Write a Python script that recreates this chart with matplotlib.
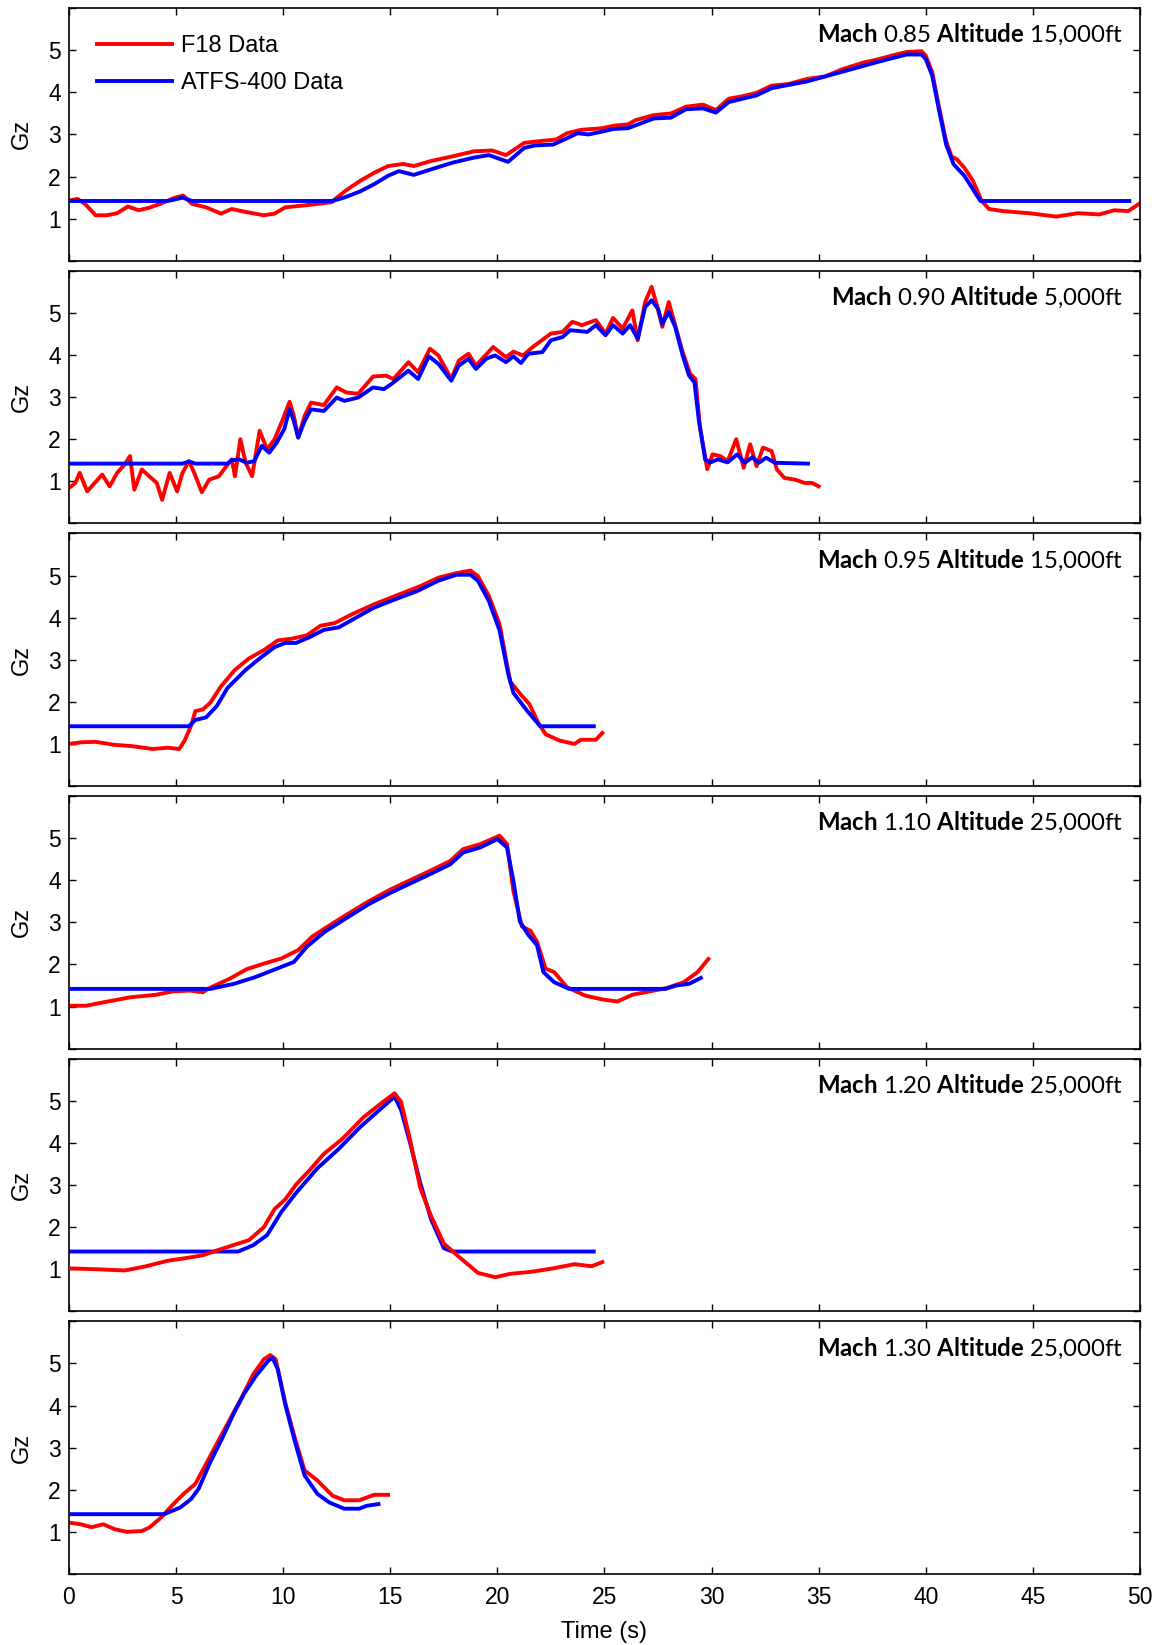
import matplotlib
matplotlib.use("Agg")
import matplotlib.pyplot as plt

# ---------------- data ----------------
mach = ["0.85", "0.90", "0.95", "1.10", "1.20", "1.30"]
altitude = ["15,000ft", "5,000ft", "15,000ft", "25,000ft", "25,000ft", "25,000ft"]
x_ticks = [0, 5, 10, 15, 20, 25, 30, 35, 40, 45, 50]
y_ticks = [0, 1, 2, 3, 4, 5, 6]
y_ticklabels = ["", "1", "2", "3", "4", "5", ""]

# Panel 1: Mach 0.85
t_f18_1 = [0, 0.4, 0.75, 1.25, 1.75, 2.25, 2.75, 3.25, 3.75, 4.25, 4.9, 5.33, 5.75, 6.4, 7.1, 7.6,
           8.25, 9.1, 9.6, 10.1, 10.9, 11.6, 12.25, 12.9, 13.6, 14.25, 14.9, 15.6, 16.1, 16.9, 17.9,
           18.9, 19.75, 20.4, 21.25, 22.1, 22.75, 23.25, 23.9, 24.9, 25.45, 26.1, 26.45, 27.3, 28.1,
           28.8, 29.6, 30.2, 30.8, 31.45, 32.1, 32.8, 33.6, 34.45, 35.3, 36.1, 37.1, 37.8, 38.45,
           39.1, 39.8, 40.0, 40.3, 40.6, 40.95, 41.2, 41.45, 41.8, 42.2, 42.6, 42.95, 43.6, 44.8,
           46.1, 47.1, 48.1, 48.8, 49.45, 49.95]
gz_f18_1 = [1.43, 1.47, 1.35, 1.08, 1.08, 1.13, 1.29, 1.2, 1.26, 1.35, 1.49, 1.55, 1.35, 1.27, 1.12,
            1.23, 1.16, 1.08, 1.12, 1.27, 1.31, 1.35, 1.39, 1.66, 1.9, 2.09, 2.25, 2.3, 2.25, 2.37,
            2.48, 2.6, 2.62, 2.51, 2.8, 2.85, 2.88, 3.03, 3.11, 3.15, 3.21, 3.24, 3.34, 3.46, 3.5,
            3.66, 3.71, 3.58, 3.85, 3.91, 3.99, 4.16, 4.2, 4.32, 4.38, 4.55, 4.71, 4.79, 4.88, 4.96,
            4.98, 4.87, 4.48, 3.7, 2.84, 2.48, 2.41, 2.21, 1.9, 1.43, 1.23, 1.18, 1.13, 1.05, 1.13,
            1.1, 1.2, 1.18, 1.35]
t_atfs_1 = [0, 4.6, 4.9, 5.3, 5.75, 12.3, 12.9, 13.6, 14.25, 14.9, 15.4, 16.1, 16.9, 17.9, 18.9,
            19.6, 20.5, 21.25, 21.75, 22.6, 23.25, 23.75, 24.25, 24.9, 25.4, 26.1, 27.3, 28.1, 28.8,
            29.6, 30.2, 30.8, 32.1, 32.8, 34.45, 36.1, 37.8, 39.1, 39.8, 40.0, 40.3, 40.6, 40.95,
            41.3, 41.8, 42.55, 49.5]
gz_atfs_1 = [1.42, 1.42, 1.45, 1.5, 1.42, 1.42, 1.51, 1.65, 1.82, 2.02, 2.13, 2.04, 2.17, 2.33,
             2.45, 2.51, 2.35, 2.68, 2.74, 2.76, 2.91, 3.03, 3.0, 3.07, 3.13, 3.15, 3.38, 3.4, 3.6,
             3.62, 3.52, 3.77, 3.93, 4.1, 4.26, 4.49, 4.73, 4.9, 4.9, 4.79, 4.4, 3.62, 2.76, 2.29,
             2.02, 1.42, 1.42]

# Panel 2: Mach 0.90
t_f18_2 = [0, 0.3, 0.5, 0.85, 1.2, 1.55, 1.9, 2.25, 2.6, 2.85, 3.05, 3.4, 3.75, 4.1, 4.35, 4.7,
           5.05, 5.3, 5.6, 5.85, 6.2, 6.55, 7.0, 7.35, 7.6, 7.75, 8.0, 8.25, 8.55, 8.9, 9.25, 9.6,
           9.95, 10.3, 10.5, 10.7, 11.0, 11.3, 11.9, 12.5, 12.95, 13.5, 14.2, 14.8, 15.15, 15.85,
           16.3, 16.85, 17.25, 17.85, 18.2, 18.65, 19.0, 19.8, 20.4, 20.75, 21.2, 21.65, 22.5,
           23.05, 23.5, 23.95, 24.6, 25.05, 25.4, 25.85, 26.3, 26.55, 26.9, 27.2, 27.45, 27.7,
           28.0, 28.3, 28.65, 29.0, 29.25, 29.45, 29.8, 30.05, 30.4, 30.75, 31.15, 31.5, 31.8,
           32.1, 32.4, 32.8, 33.05, 33.4, 33.9, 34.35, 34.7, 35.0]
gz_f18_2 = [0.84, 0.96, 1.2, 0.76, 0.96, 1.16, 0.88, 1.2, 1.4, 1.6, 0.8, 1.28, 1.12, 0.96, 0.56,
            1.2, 0.76, 1.2, 1.48, 1.2, 0.74, 1.04, 1.12, 1.36, 1.52, 1.12, 2.0, 1.44, 1.12, 2.2,
            1.76, 2.0, 2.43, 2.89, 2.55, 2.04, 2.55, 2.87, 2.81, 3.23, 3.11, 3.08, 3.49, 3.51, 3.43,
            3.83, 3.59, 4.15, 3.99, 3.43, 3.87, 4.03, 3.75, 4.19, 3.95, 4.08, 3.99, 4.19, 4.51,
            4.55, 4.79, 4.71, 4.83, 4.51, 4.88, 4.63, 5.06, 4.35, 5.26, 5.62, 5.18, 4.67, 5.26,
            4.71, 4.07, 3.55, 3.43, 2.31, 1.29, 1.64, 1.6, 1.48, 2.0, 1.32, 1.88, 1.36, 1.8, 1.72,
            1.28, 1.08, 1.04, 0.96, 0.96, 0.88]
t_atfs_2 = [0, 5.3, 5.6, 5.9, 7.4, 7.6, 7.95, 8.3, 8.65, 9.0, 9.35, 9.7, 10.05, 10.3, 10.5, 10.7,
            11.0, 11.3, 11.9, 12.5, 12.85, 13.5, 14.2, 14.7, 15.05, 15.85, 16.3, 16.8, 17.25,
            17.85, 18.2, 18.65, 19.0, 19.5, 19.9, 20.4, 20.75, 21.1, 21.45, 22.1, 22.5, 23.05,
            23.4, 24.2, 24.6, 25.05, 25.4, 25.85, 26.2, 26.55, 26.9, 27.2, 27.5, 27.7, 28.0, 28.3,
            28.65, 28.95, 29.2, 29.4, 29.7, 29.95, 30.3, 30.75, 31.2, 31.55, 31.9, 32.2, 32.55,
            32.95, 34.5]
gz_atfs_2 = [1.42, 1.42, 1.47, 1.42, 1.42, 1.5, 1.52, 1.44, 1.48, 1.84, 1.68, 1.92, 2.24, 2.71,
             2.43, 2.04, 2.43, 2.71, 2.67, 2.99, 2.91, 2.99, 3.23, 3.19, 3.31, 3.63, 3.43, 3.97,
             3.79, 3.39, 3.75, 3.91, 3.67, 3.92, 3.99, 3.83, 3.97, 3.81, 4.03, 4.07, 4.35, 4.43,
             4.59, 4.55, 4.71, 4.47, 4.71, 4.51, 4.71, 4.39, 5.14, 5.3, 5.1, 4.74, 5.02, 4.67,
             3.99, 3.51, 3.35, 2.47, 1.52, 1.45, 1.52, 1.45, 1.64, 1.44, 1.57, 1.44, 1.56, 1.44,
             1.42]

# Panel 3: Mach 0.95
t_f18_3 = [0, 0.6, 1.25, 2.1, 2.9, 3.9, 4.6, 5.15, 5.4, 5.7, 5.9, 6.25, 6.6, 7.1, 7.75, 8.4, 9.1,
           9.75, 10.4, 11.1, 11.75, 12.4, 13.25, 14.25, 15.25, 16.4, 17.25, 18.1, 18.75, 19.1,
           19.6, 20.1, 20.6, 21.1, 21.5, 21.9, 22.25, 22.9, 23.6, 23.9, 24.6, 24.9]
gz_f18_3 = [1.0, 1.04, 1.05, 0.98, 0.95, 0.88, 0.91, 0.88, 1.08, 1.43, 1.78, 1.82, 1.98, 2.37,
            2.76, 3.03, 3.23, 3.46, 3.5, 3.58, 3.81, 3.87, 4.09, 4.32, 4.52, 4.75, 4.95, 5.06,
            5.12, 4.98, 4.52, 3.85, 2.48, 2.17, 1.94, 1.51, 1.23, 1.08, 1.0, 1.1, 1.1, 1.26]
t_atfs_3 = [0, 5.6, 5.9, 6.4, 6.9, 7.4, 8.25, 8.9, 9.6, 10.1, 10.6, 11.25, 11.9, 12.6, 13.4,
            14.25, 15.25, 16.25, 17.25, 18.1, 18.75, 19.1, 19.6, 20.1, 20.5, 20.75, 21.1, 21.4,
            22.0, 24.5]
gz_atfs_3 = [1.42, 1.42, 1.57, 1.63, 1.9, 2.33, 2.76, 3.03, 3.3, 3.4, 3.4, 3.54, 3.71, 3.77, 4.0,
             4.24, 4.44, 4.63, 4.88, 5.02, 5.02, 4.87, 4.4, 3.7, 2.68, 2.21, 1.98, 1.78, 1.42,
             1.42]

# Panel 4: Mach 1.10
t_f18_4 = [0, 0.8, 1.6, 2.85, 4.05, 4.85, 5.65, 6.25, 6.55, 7.5, 8.3, 9.1, 9.9, 10.7, 11.35,
           11.95, 12.95, 13.95, 15.0, 16.0, 17.0, 17.8, 18.4, 19.2, 20.1, 20.45, 20.75, 21.15,
           21.55, 21.85, 22.25, 22.65, 23.25, 24.1, 24.9, 25.6, 26.3, 27.1, 27.9, 28.7, 29.35,
           29.85]
gz_f18_4 = [1.02, 1.02, 1.1, 1.22, 1.28, 1.36, 1.38, 1.34, 1.44, 1.66, 1.89, 2.02, 2.14, 2.34,
            2.66, 2.86, 3.18, 3.49, 3.78, 4.02, 4.26, 4.46, 4.74, 4.86, 5.06, 4.86, 3.74, 2.9,
            2.8, 2.54, 1.9, 1.82, 1.46, 1.26, 1.17, 1.12, 1.28, 1.36, 1.44, 1.58, 1.82, 2.13]
t_atfs_4 = [0, 6.6, 7.7, 8.7, 9.7, 10.5, 11.1, 11.95, 12.95, 13.95, 15.0, 16.0, 17.0, 17.8, 18.4,
            19.2, 20.0, 20.45, 20.75, 21.05, 21.45, 21.85, 22.15, 22.65, 23.35, 27.85, 28.35,
            28.95, 29.5]
gz_atfs_4 = [1.42, 1.42, 1.54, 1.7, 1.9, 2.06, 2.42, 2.78, 3.1, 3.42, 3.7, 3.94, 4.18, 4.38, 4.66,
             4.78, 4.98, 4.78, 3.98, 3.02, 2.7, 2.46, 1.82, 1.58, 1.42, 1.42, 1.5, 1.54, 1.68]

# Panel 5: Mach 1.20
t_f18_5 = [0, 1.25, 2.6, 3.6, 4.6, 5.4, 6.25, 6.75, 7.6, 8.4, 9.1, 9.6, 10.1, 10.6, 11.25, 11.9,
           12.75, 13.75, 14.6, 15.2, 15.5, 15.9, 16.4, 16.9, 17.5, 18.1, 19.1, 19.9, 20.6, 21.6,
           22.6, 23.6, 24.4, 24.9]
gz_f18_5 = [1.02, 1.0, 0.97, 1.07, 1.2, 1.26, 1.33, 1.42, 1.56, 1.69, 2.0, 2.43, 2.66, 3.01,
            3.36, 3.74, 4.09, 4.61, 4.95, 5.18, 4.98, 4.13, 2.93, 2.27, 1.61, 1.34, 0.91, 0.81,
            0.89, 0.94, 1.02, 1.12, 1.07, 1.17]
t_atfs_5 = [0, 7.9, 8.6, 9.25, 9.9, 10.6, 11.6, 12.6, 13.6, 14.6, 15.2, 15.5, 15.9, 16.4, 16.9,
            17.5, 17.9, 24.5]
gz_atfs_5 = [1.42, 1.42, 1.57, 1.81, 2.35, 2.81, 3.4, 3.86, 4.38, 4.83, 5.1, 4.79, 4.05, 3.05,
             2.19, 1.5, 1.42, 1.42]

# Panel 6: Mach 1.30
t_f18_6 = [0, 0.55, 1.05, 1.6, 2.15, 2.7, 3.4, 3.75, 4.3, 4.8, 5.35, 5.9, 6.45, 6.95, 7.5, 8.05,
           8.6, 9.1, 9.4, 9.65, 10.1, 10.55, 11.0, 11.6, 12.3, 12.85, 13.55, 14.25, 14.9]
gz_f18_6 = [1.22, 1.18, 1.11, 1.18, 1.06, 1.0, 1.02, 1.1, 1.34, 1.62, 1.9, 2.14, 2.66, 3.14,
            3.66, 4.18, 4.74, 5.1, 5.2, 5.1, 4.06, 3.22, 2.46, 2.22, 1.86, 1.75, 1.75, 1.88, 1.88]
t_atfs_6 = [0, 4.45, 5.2, 5.7, 6.05, 6.6, 7.15, 7.7, 8.2, 8.75, 9.3, 9.5, 9.75, 10.1, 10.55, 11.0,
            11.6, 12.15, 12.85, 13.55, 13.9, 14.45]
gz_atfs_6 = [1.42, 1.42, 1.58, 1.78, 2.02, 2.66, 3.22, 3.82, 4.3, 4.72, 5.06, 5.14, 4.86, 4.02,
             3.14, 2.34, 1.9, 1.7, 1.55, 1.55, 1.62, 1.66]

f18_t = [t_f18_1, t_f18_2, t_f18_3, t_f18_4, t_f18_5, t_f18_6]
f18_gz = [gz_f18_1, gz_f18_2, gz_f18_3, gz_f18_4, gz_f18_5, gz_f18_6]
atfs_t = [t_atfs_1, t_atfs_2, t_atfs_3, t_atfs_4, t_atfs_5, t_atfs_6]
atfs_gz = [gz_atfs_1, gz_atfs_2, gz_atfs_3, gz_atfs_4, gz_atfs_5, gz_atfs_6]
red_on_top = [False, False, False, False, True, False]

# ---------------- figure ----------------
plt.rcParams['font.family'] = ['Liberation Sans', 'DejaVu Sans']
plt.rcParams['mathtext.fontset'] = 'custom'
plt.rcParams['mathtext.rm'] = 'Lato'
plt.rcParams['mathtext.bf'] = 'Lato:bold'

fig, axes = plt.subplots(6, 1, figsize=(11.59, 16.45), dpi=100, sharex=True)
fig.subplots_adjust(left=0.0595, right=0.9836, top=0.995, bottom=0.0432, hspace=0.04)

for i, ax in enumerate(axes):
    zr = 3 if red_on_top[i] else 2
    zb = 2 if red_on_top[i] else 3
    ax.plot(f18_t[i], f18_gz[i], color='#ff0000', lw=2.8, label='F18 Data', zorder=zr)
    ax.plot(atfs_t[i], atfs_gz[i], color='#0000ff', lw=2.8, label='ATFS-400 Data', zorder=zb)
    ax.set_xlim(0, 50)
    ax.set_ylim(0, 6)
    ax.set_xticks(x_ticks)
    ax.set_yticks(y_ticks)
    ax.set_yticklabels(y_ticklabels)
    ax.tick_params(direction='in', top=True, right=True, length=5, width=1,
                   labelsize=16.5, colors='black')
    ax.tick_params(axis='y', pad=6)
    ax.tick_params(axis='x', pad=9)
    for s in ax.spines.values():
        s.set_linewidth(1.2)
    ax.set_ylabel('Gz', fontsize=17, labelpad=11)
    ax.text(0.984, 0.945, r"$\bf{Mach}$ " + mach[i] + r" $\bf{Altitude}$ " + altitude[i],
            transform=ax.transAxes, ha='right', va='top', fontsize=17.3, family='Lato')
    if i < 5:
        ax.tick_params(axis='x', labelbottom=False)

axes[0].legend(loc='upper left', bbox_to_anchor=(0.026, 0.893), frameon=False, fontsize=17,
               handlelength=3.2, handletextpad=0.35, labelspacing=0.62, borderpad=0,
               borderaxespad=0)
axes[-1].set_xlabel('Time (s)', fontsize=17, labelpad=8)

fig.savefig('out.png', dpi=100)
